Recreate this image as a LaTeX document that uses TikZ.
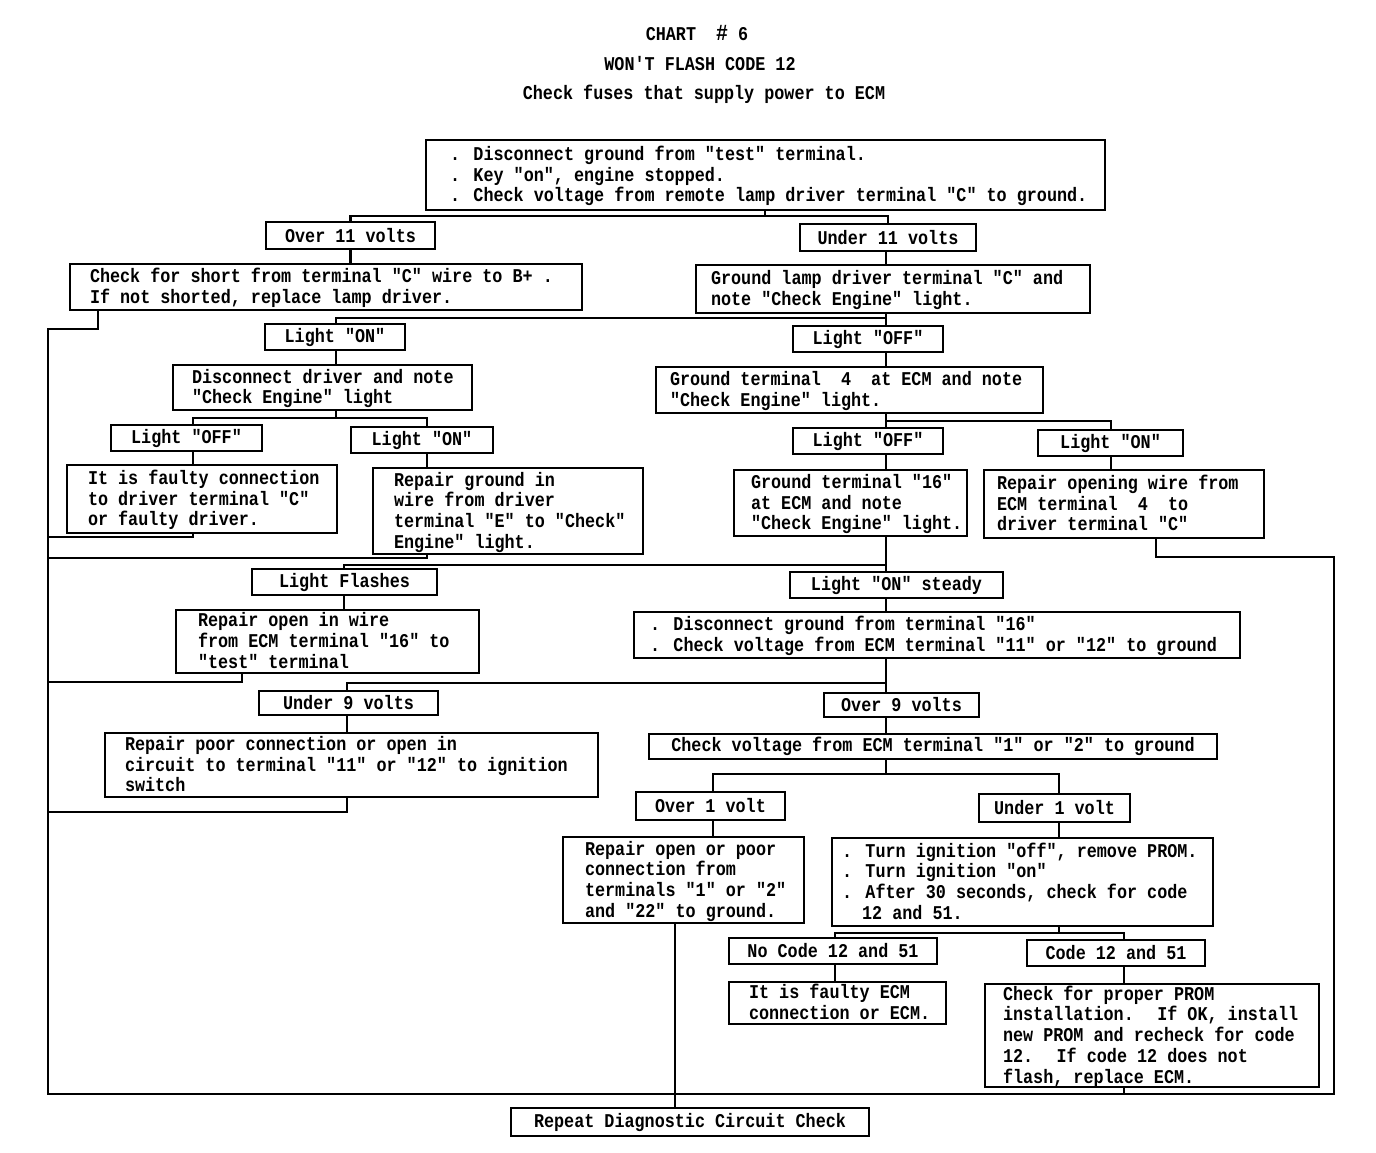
\documentclass[tikz,border=0pt]{standalone}
\usepackage{fontspec}
\newfontfamily\mono[FakeStretch=0.86,Ligatures=TeXOff]{Liberation Mono}
\tikzset{
  bx/.style={draw, line width=2.2pt, inner sep=0pt, font=\mono\bfseries\fontsize{19.5}{20.7}\selectfont},
  tt/.style={inner sep=0pt, font=\mono\bfseries\fontsize{19.5}{20.7}\selectfont},
  w/.style={line width=2.2pt, line join=miter}
}
\newcommand\tbox[7]{%
  \pgfmathsetmacro\bw{#4-#2}\pgfmathsetmacro\bh{#5-#3}%
  \node[bx, minimum width=\bw pt, minimum height=\bh pt] (#1) at ({(#2+#4)/2},{(#3+#5)/2})
   {\raisebox{-2pt}[\height][\depth]{\makebox[\bw pt][l]{\hspace*{#6pt}\begin{tabular}{@{}l@{}}#7\end{tabular}}}};}
\newcommand\lbox[6]{%
  \pgfmathsetmacro\bw{#4-#2}\pgfmathsetmacro\bh{#5-#3}%
  \node[bx, minimum width=\bw pt, minimum height=\bh pt] (#1) at ({(#2+#4)/2},{(#3+#5)/2}) {#6};}
\begin{document}
\begin{tikzpicture}[x=1pt,y=-1pt]
\useasboundingbox (0,0) rectangle (1376,1152);
\fill[white] (0,0) rectangle (1376,1152);
% titles
\node[tt] (t1) at (697,33) {CHART~ {\fontsize{23}{24}\selectfont\#} 6};
\node[tt] (t2) at (700,64) {WON'T FLASH CODE 12};
\node[tt] (t3) at (704,94) {Check fuses that supply power to ECM};
% text boxes
\tbox{top}{426}{140}{1105}{210}{24}{. Disconnect ground from "test" terminal.\\. Key "on", engine stopped.\\. Check voltage from remote lamp driver terminal "C" to ground.}
\tbox{chk}{70}{264}{582}{310}{20}{Check for short from terminal "C" wire to B+ .\\If not shorted, replace lamp driver.}
\tbox{gl}{696}{265}{1090}{313}{15}{Ground lamp driver terminal "C" and\\note "Check Engine" light.}
\tbox{dd}{173}{365}{472}{410}{19}{Disconnect driver and note\\"Check Engine" light}
\tbox{gt4}{656}{367}{1043}{413}{14}{Ground terminal~ 4~ at ECM and note\\"Check Engine" light.}
\tbox{faulty}{67}{465}{337}{533}{21}{It is faulty connection\\to driver terminal "C"\\or faulty driver.}
\tbox{repgnd}{373}{468}{643}{554}{21}{Repair ground in\\wire from driver\\terminal "E" to "Check"\\Engine" light.}
\tbox{gt16}{734}{470}{967}{536}{17}{Ground terminal "16"\\at ECM and note\\"Check Engine" light.}
\tbox{ropen}{984}{470}{1264}{538}{13}{Repair opening wire from\\ECM terminal~ 4~ to\\driver terminal "C"}
\tbox{ropen16}{176}{610}{479}{673}{22}{Repair open in wire\\from ECM terminal "16" to\\"test" terminal}
\tbox{disc16}{634}{612}{1240}{658}{16}{. Disconnect ground from terminal "16"\\. Check voltage from ECM terminal "11" or "12" to ground}
\tbox{rpc}{105}{733}{598}{797}{20}{Repair poor connection or open in\\circuit to terminal "11" or "12" to ignition\\switch}
\tbox{rop}{563}{837}{804}{923}{22}{Repair open or poor\\connection from\\terminals "1" or "2"\\and "22" to ground.}
\tbox{ti}{832}{838}{1213}{926}{10}{. Turn ignition "off", remove PROM.\\. Turn ignition "on"\\. After 30 seconds, check for code\\~~12 and 51.}
\tbox{fecm}{729}{982}{946}{1024}{20}{It is faulty ECM\\connection or ECM.}
\tbox{cpp}{985}{984}{1319}{1087}{18}{Check for proper PROM\\installation.~ If OK, install\\new PROM and recheck for code\\12.~ If code 12 does not\\flash, replace ECM.}
% label boxes
\lbox{ovr}{266}{222}{435}{249}{Over 11 volts}
\lbox{und}{800}{224}{976}{251}{Under 11 volts}
\lbox{lon1}{265}{324}{405}{350}{Light "ON"}
\lbox{loff1}{793}{326}{943}{352}{Light "OFF"}
\lbox{loff3}{111}{425}{262}{451}{Light "OFF"}
\lbox{lon3}{351}{427}{493}{453}{Light "ON"}
\lbox{loff2}{793}{428}{943}{454}{Light "OFF"}
\lbox{lon2}{1038}{430}{1183}{456}{Light "ON"}
\lbox{flash}{252}{569}{437}{595}{Light Flashes}
\lbox{steady}{790}{572}{1003}{598}{Light "ON" steady}
\lbox{u9}{259}{691}{438}{715}{Under 9 volts}
\lbox{o9}{824}{693}{979}{717}{Over 9 volts}
\lbox{cv}{649}{734}{1217}{759}{Check voltage from ECM terminal "1" or "2" to ground}
\lbox{ov1}{636}{792}{785}{820}{Over 1 volt}
\lbox{un1}{979}{794}{1130}{822}{Under 1 volt}
\lbox{nc}{729}{938}{937}{964}{No Code 12 and 51}
\lbox{c12}{1027}{940}{1205}{966}{Code 12 and 51}
\lbox{rep}{511}{1108}{869}{1136}{Repeat Diagnostic Circuit Check}
% columns
\foreach \n/\x in {L/48,a/98,b/193,c/427,d/336,e/886,f/1111,g/1156,h/1334,i/344,k/242,m/347,n/713,o/1059,p/675,q/835,r/1124,s/765}{\coordinate (x\n) at (\x,0);}
% connectors
\coordinate (j1) at (765,216);
\draw[w] (top.south -| xs) -- (j1);
\draw[w] (ovr.north) |- (j1) -| (und.north);
\draw[w] (ovr.south) -- (ovr.south |- chk.north);
\draw[w] (und.south -| xe) -- (gl.north -| xe);
\coordinate (j2) at (886,318);
\draw[w] (gl.south -| xe) -- (loff1.north -| xe);
\draw[w] (j2) -| (lon1.north -| xd);
% return bus
\draw[w] (chk.south -| xa) |- (48,329) -- (48,1094) -| (1334,557) -| (ropen.south -| xg);
\draw[w] (faulty.south -| xb) |- (48,537);
\draw[w] (repgnd.south -| xc) |- (48,558);
\draw[w] (ropen16.south -| xk) |- (48,682);
\draw[w] (rpc.south -| xm) |- (48,812);
\draw[w] (cpp.south -| xr) -- (1124,1094);
\draw[w] (rop.south -| xp) -- (rep.north -| xp);
% left tree
\draw[w] (lon1.south -| xd) -- (dd.north -| xd);
\draw[w] (dd.south -| xd) -- (336,418);
\draw[w] (loff3.north -| xb) |- (427,418) -- (lon3.north -| xc);
\draw[w] (loff3.south -| xb) -- (faulty.north -| xb);
\draw[w] (lon3.south -| xc) -- (repgnd.north -| xc);
% right tree
\draw[w] (loff1.south -| xe) -- (gt4.north -| xe);
\draw[w] (gt4.south -| xe) -- (loff2.north -| xe);
\draw[w] (886,421) -| (lon2.north -| xf);
\draw[w] (loff2.south -| xe) -- (gt16.north -| xe);
\draw[w] (lon2.south -| xf) -- (ropen.north -| xf);
\draw[w] (gt16.south -| xe) -- (steady.north -| xe);
\draw[w] (886,565) -| (flash.north -| xi);
\draw[w] (flash.south -| xi) -- (ropen16.north -| xi);
\draw[w] (steady.south -| xe) -- (disc16.north -| xe);
\draw[w] (disc16.south -| xe) -- (o9.north -| xe);
\draw[w] (886,683) -| (u9.north -| xm);
\draw[w] (u9.south -| xm) -- (rpc.north -| xm);
\draw[w] (o9.south -| xe) -- (cv.north -| xe);
\draw[w] (cv.south -| xe) -- (886,774);
\draw[w] (ov1.north -| xn) |- (886,774) -| (un1.north -| xo);
\draw[w] (ov1.south -| xn) -- (rop.north -| xn);
\draw[w] (un1.south -| xo) -- (ti.north -| xo);
\draw[w] (ti.south -| xo) -- (1059,933);
\draw[w] (nc.north -| xq) |- (1124,933) -- (c12.north -| xr);
\draw[w] (nc.south -| xq) -- (fecm.north -| xq);
\draw[w] (c12.south -| xr) -- (cpp.north -| xr);
\end{tikzpicture}
\end{document}
